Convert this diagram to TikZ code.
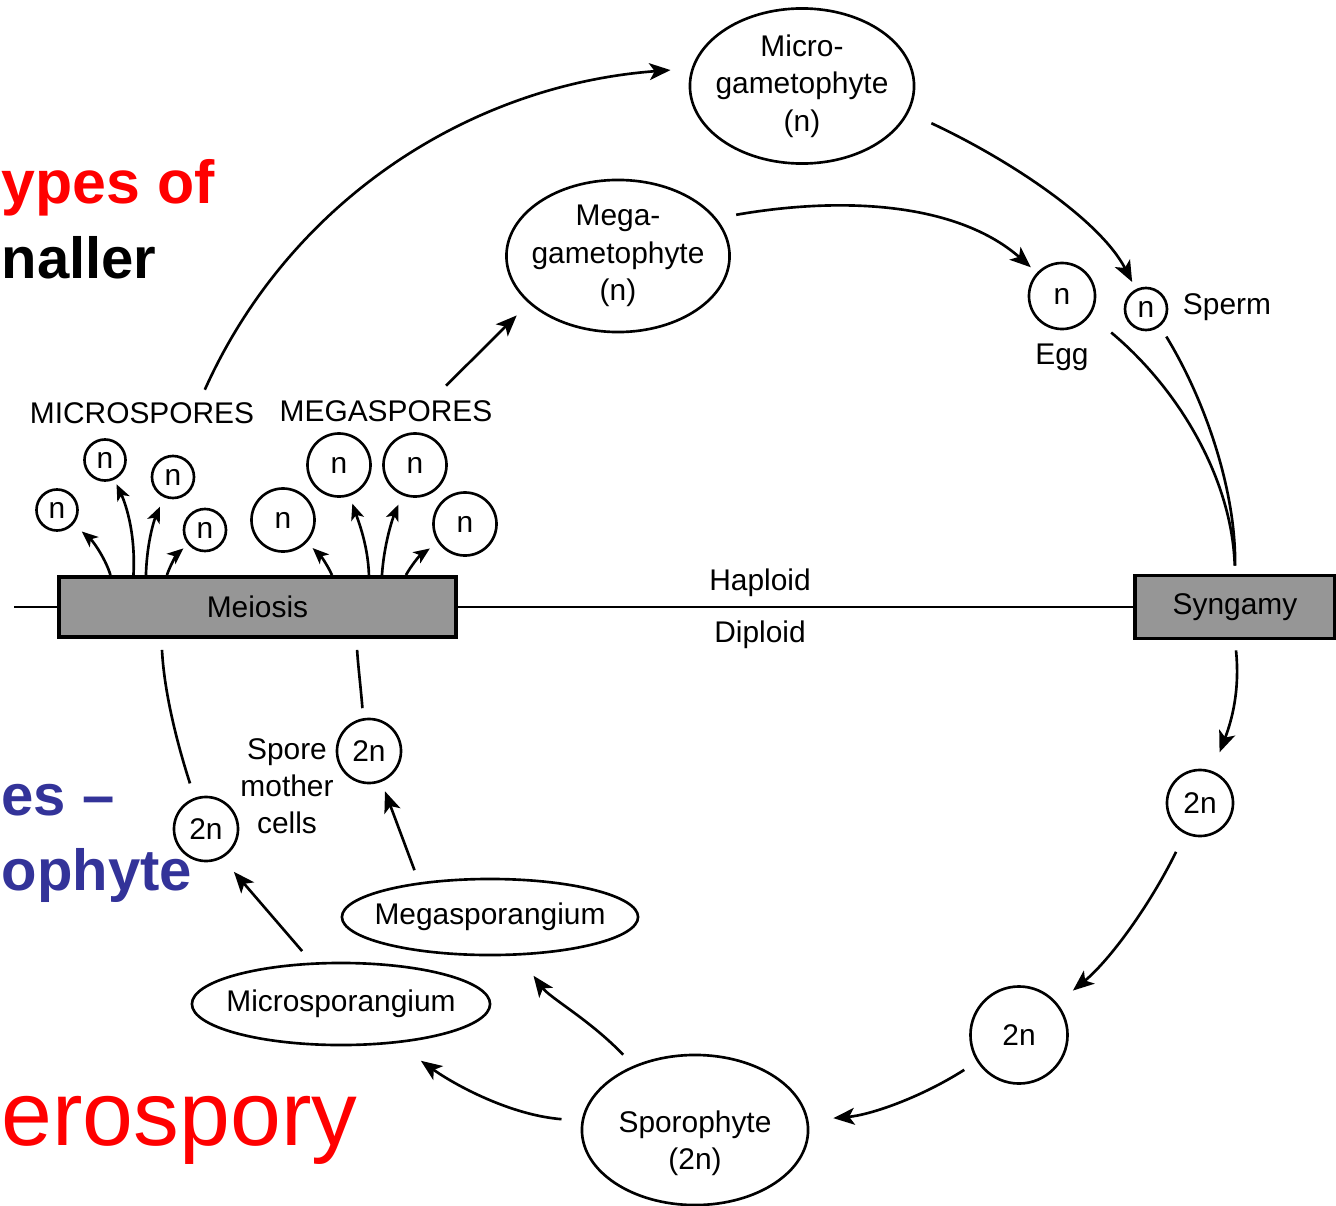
\documentclass[tikz,border=0pt]{standalone}
\usepackage{fontspec}
\setmainfont{Liberation Sans}
\usetikzlibrary{shapes.geometric,arrows.meta,calc}
\definecolor{slidered}{RGB}{255,0,0}
\definecolor{slideblue}{RGB}{51,51,153}
\definecolor{boxgray}{RGB}{150,150,150}
\begin{document}
\begin{tikzpicture}[x=0.01cm,y=-0.01cm,
  dtext/.style={font=\fontsize{8.5}{10.6}\selectfont, inner sep=0pt, align=center},
  ell/.style={dtext, ellipse, draw, line width=0.75pt},
  cell/.style={dtext, circle, draw, line width=0.75pt},
  gbox/.style={dtext, rectangle, draw, line width=1.1pt, fill=boxgray},
  arr/.style={line width=0.75pt, -{Stealth[length=6pt,width=4.8pt,inset=1.5pt]}},
  sarr/.style={line width=0.75pt, -{Stealth[length=4.6pt,width=3.8pt,inset=1.2pt]}},
  link/.style={line width=0.75pt},
  bigbold/.style={inner sep=0pt, font=\fontsize{16.5}{20}\selectfont\bfseries},
  bigreg/.style={inner sep=0pt, font=\fontsize{26}{30}\selectfont},
]
\useasboundingbox (0,0) rectangle (1336,1206);
\clip (0,0) rectangle (1336,1206);

% slide overlay texts
\node[bigbold, font=\fontsize{17.3}{20}\selectfont\bfseries, text=slidered, anchor=base west] (t1) at (1,203) {ypes of};
\node[bigbold, text=black, anchor=base west] (t2) at (1,278) {naller};
\node[bigbold, text=slideblue, anchor=base west] (t3) at (1,815) {es –};
\node[bigbold, text=slideblue, anchor=base west] (t4) at (1,890) {ophyte};
\node[bigreg, text=slidered, anchor=base west] (t5) at (1,1145) {erospory};

% gametophytes, gametes
\node[ell, inner xsep=-0.1cm, minimum width=2.24cm, minimum height=1.55cm] (mic) at (802,86) {Micro-\\gametophyte\\(n)};
\node[ell, inner xsep=-0.1cm, minimum width=2.23cm, minimum height=1.52cm] (meg) at (618,256) {Mega-\\gametophyte\\(n)};
\node[cell, minimum size=0.66cm] (egg) at (1062,296) {n};
\node[dtext] (egglbl) at (1062,357) {Egg};
\node[cell, minimum size=0.42cm] (sperm) at (1146,309) {n};
\node[dtext] (spermlbl) at (1227,307) {Sperm};

% boxes and line
\node[gbox, minimum width=2.0cm, minimum height=0.63cm] (syn) at (1235,607) {Syngamy};
\node[gbox, minimum width=3.96cm, minimum height=0.6cm] (mei) at (257.5,607) {Meiosis};
\coordinate (lend) at (14,607);
\node[dtext] (hap) at (760,583) {Haploid};
\node[dtext] (dip) at (760,635) {Diploid};

% spores
\node[dtext] (mslab) at (142,413) {MICROSPORES};
\node[dtext] (mglab) at (386,411) {MEGASPORES};
\node[cell, minimum size=0.41cm] (s1) at (57,510) {n};
\node[cell, minimum size=0.41cm] (s2) at (105,460) {n};
\node[cell, minimum size=0.42cm] (s3) at (173,477) {n};
\node[cell, minimum size=0.42cm] (s4) at (205,530) {n};
\node[cell, minimum size=0.63cm] (s5) at (283,520) {n};
\node[cell, minimum size=0.63cm] (s6) at (339,465) {n};
\node[cell, minimum size=0.63cm] (s7) at (415,465) {n};
\node[cell, minimum size=0.63cm] (s8) at (465,524) {n};

% diploid part
\node[cell, minimum size=0.66cm] (z1) at (1200,803) {2n};
\node[cell, minimum size=0.97cm] (z2) at (1019,1035) {2n};
\node[ell, minimum width=2.26cm, minimum height=1.5cm] (spo) at (695,1130) {};
\node[dtext] (spotxt) at (695,1143) {Sporophyte\\(2n)};
\node[ell, inner xsep=-0.15cm, minimum width=2.96cm, minimum height=0.76cm] (megsp) at (490,917) {Megasporangium};
\node[ell, inner xsep=-0.15cm, minimum width=2.98cm, minimum height=0.82cm] (micsp) at (341,1004) {Microsporangium};
\node[cell, minimum size=0.64cm] (zL) at (206,829) {2n};
\node[cell, minimum size=0.64cm] (zR) at (369,751) {2n};
\node[dtext] (smc) at (287,786) {Spore\\mother\\cells};

% horizontal haploid/diploid line
\draw[link] (lend) -- (mei.west);
\draw[link] (mei.east) -- (syn.west);

% connectors
\draw[arr, shorten >=0.21cm] ($(mslab.north east)+(-50,-12)$) .. controls (290,200) and (470,85) .. (mic.171);
\draw[arr, shorten >=0.17cm] ($(mglab.north east)+(-47,-14)$) -- (meg.208);
\draw[arr, shorten <=0.25cm, shorten >=0.08cm] (mic.-14) .. controls (1010,160) and (1100,220) .. (sperm.117);
\draw[arr, shorten <=0.2cm, shorten >=0.08cm] (meg.21) .. controls (850,195) and (960,205) .. (egg.137);
\draw[link, shorten <=0.27cm, shorten >=0.08cm] (egg.-34) .. controls (1180,390) and (1232,480) .. (syn.north);
\draw[link, shorten <=0.12cm, shorten >=0.08cm] (sperm.-51) .. controls (1205,400) and (1236,490) .. (syn.north);
\draw[arr, shorten <=0.1cm, shorten >=0.2cm] (syn.south) .. controls (1240,690) and (1232,720) .. (z1);
\draw[arr, shorten <=0.2cm, shorten >=0.2cm] (z1) .. controls (1150,905) and (1110,960) .. (z2);
\draw[arr, shorten <=0.15cm, shorten >=0.25cm] (z2) .. controls (920,1098) and (870,1115) .. (spo);
\draw[arr, shorten <=0.2cm, shorten >=0.3cm] (spo) .. controls (510,1115) and (455,1085) .. (micsp);
\draw[arr, shorten <=0.15cm, shorten >=0.25cm] (spo) .. controls (590,1020) and (550,998) .. (megsp);
\draw[arr, shorten <=0.15cm, shorten >=0.18cm] (micsp.125) -- (zL.-61);
\draw[arr, shorten <=0.13cm, shorten >=0.1cm] (megsp.154) -- (zR.-68);
\draw[link, shorten <=0.15cm, shorten >=0.11cm] (zL.110) .. controls (176,740) and (164,690) .. ($(mei.south west)+(104,0)$);
\draw[link, shorten <=0.1cm, shorten >=0.11cm] (zR.100) .. controls (361,690) and (358,665) .. ($(mei.south west)+(299,0)$);

% spore arrows from meiosis
\draw[sarr, shorten >=0.11cm] ($(mei.north west)+(53,0)$) .. controls (106,560) and (94,542) .. (s1);
\draw[sarr, shorten >=0.05cm] ($(mei.north west)+(76,0)$) .. controls (136,530) and (124,500) .. (s2);
\draw[sarr, shorten >=0.1cm] ($(mei.north west)+(88.5,0)$) .. controls (147,540) and (155,518) .. (s3);
\draw[sarr, shorten >=0.06cm] ($(mei.north west)+(109.5,0)$) .. controls (171,563) and (178,553) .. (s4);
\draw[sarr, shorten >=0.08cm] ($(mei.north west)+(274.5,0)$) .. controls (328,566) and (321,556) .. (s5);
\draw[sarr, shorten >=0.08cm] ($(mei.north west)+(311.5,0)$) .. controls (368,545) and (358,520) .. (s6);
\draw[sarr, shorten >=0.1cm] ($(mei.north west)+(324.5,0)$) .. controls (384,545) and (392,520) .. (s7);
\draw[sarr, shorten >=0.1cm] ($(mei.north west)+(348.5,0)$) .. controls (411,566) and (419,556) .. (s8);
\end{tikzpicture}
\end{document}
